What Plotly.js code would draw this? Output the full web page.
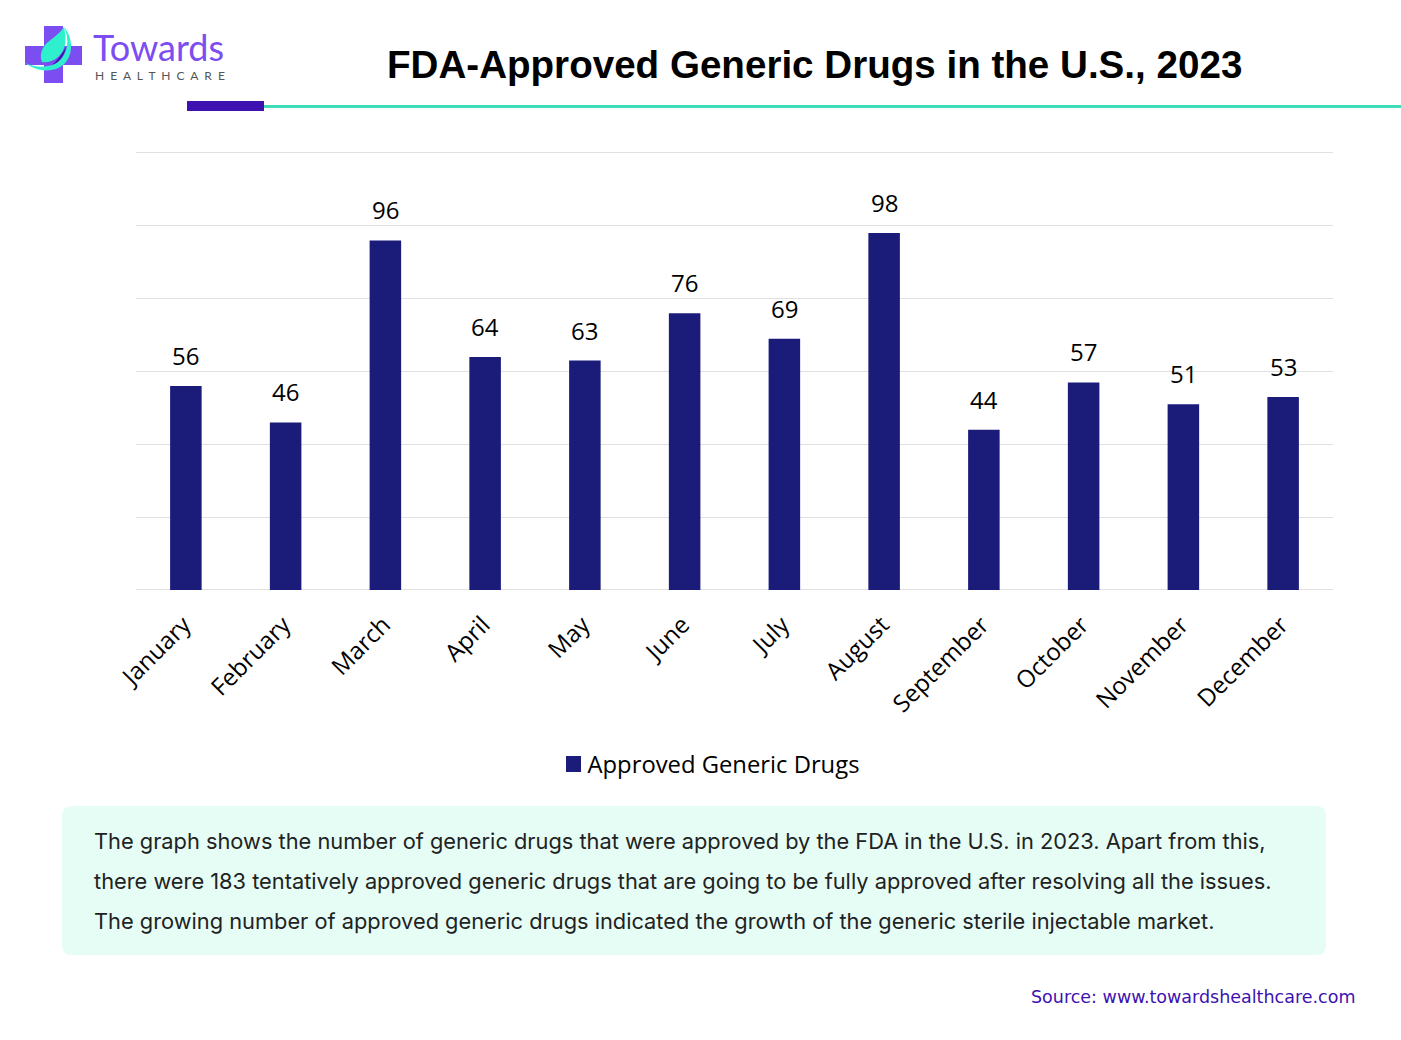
<!DOCTYPE html>
<html>
<head>
<meta charset="utf-8">
<script src="https://cdn.plot.ly/plotly-3.0.1.min.js"></script>
<style>html,body{margin:0;padding:0;background:#fff;overflow:hidden}#chart{width:1401px;height:1040px}
.legend .legendpoints{transform:translate(7px,0)}</style>
</head>
<body>
<div id="chart"></div>
<script>
const months = ["January","February","March","April","May","June","July","August","September","October","November","December"];
const approved = [56,46,96,64,63,76,69,98,44,57,51,53];
const seriesName = "Approved Generic Drugs";
const chartTitle = "FDA-Approved Generic Drugs in the U.S., 2023";
const bodyLines = [
  "The graph shows the number of generic drugs that were approved by the FDA in the U.S. in 2023. Apart from this,",
  "there were 183 tentatively approved generic drugs that are going to be fully approved after resolving all the issues.",
  "The growing number of approved generic drugs indicated the growth of the generic sterile injectable market."
];
const sourceText = "Source: www.towardshealthcare.com";
const labelFont = "'Open Sans', sans-serif";

const W = 1401, H = 1040;
const px = x => x / W;
const py = y => 1 - y / H;
function path(cmds){
  return cmds.map(c => c[0] + c.slice(1).reduce((acc,v,i,a)=>{
    if(i%2===0) acc.push(px(v).toFixed(5)+","+py(a[i+1]).toFixed(5));
    return acc;
  },[]).join(" ")).join(" ");
}
function rect(x0,y0,x1,y1,color){
  return {type:"rect",xref:"paper",yref:"paper",x0:px(x0),x1:px(x1),y0:py(y0),y1:py(y1),fillcolor:color,line:{width:0},layer:"above"};
}
function shapePath(cmds,color){
  return {type:"path",xref:"paper",yref:"paper",path:path(cmds),fillcolor:color,line:{width:0},layer:"above"};
}
const R=10, bx0=62, bx1=1326, by0=806, by1=955;
const box = {type:"path",xref:"paper",yref:"paper",layer:"below",fillcolor:"#e6fdf6",line:{width:0},
  path:path([["M",bx0+R,by0],["L",bx1-R,by0],["Q",bx1,by0,bx1,by0+R],["L",bx1,by1-R],["Q",bx1,by1,bx1-R,by1],["L",bx0+R,by1],["Q",bx0,by1,bx0,by1-R],["L",bx0,by0+R],["Q",bx0,by0,bx0+R,by0],["Z"]])};

const teal = "#2ff0cc";
const shapes = [
  box,
  rect(264,105,1401,108,"#3fdcb8"),
  rect(187,101,264,111,"#3d12b0"),
  // logo cross
  rect(44,26,63,83,"#7c4df0"),
  rect(25,46,82,65,"#7c4df0"),
  // logo swoosh, shadow, leaf
  shapePath([["M",64,27],["C",72,36,74,52,66,62],["C",58,72,40,74,25,63],["C",36,68,50,68,58,62],["C",68,54,70,40,64,27],["Z"]],teal),
  shapePath([["M",66,47],["C",64,56,60,62,52,65],["C",58,60,62,54,66,47],["Z"]],"#3d12b0"),
  shapePath([["M",64,27],["C",67,40,66,50,58,57],["C",54,61,47,63,42,62],["C",39,55,42,47,48,42],["C",54,37,60,33,64,27],["Z"]],teal),
  // legend swatch size
  rect(566,756,581,772,"#1b1c7a")
];

const ann = (text,x,y,size,color,family,anchor,extra) => Object.assign({
  text, xref:"paper", yref:"paper", x:px(x), y:py(y), xanchor:anchor||"left", yanchor:"middle",
  showarrow:false, font:{size,color,family}}, extra||{});

const valueLabels = months.map((m,i)=>({
  text:String(approved[i]), xref:"x", yref:"y", x:m, y:approved[i],
  xanchor:"center", yanchor:"bottom", yshift:12, showarrow:false,
  font:{size:24,color:"#000",family:labelFont}
}));

const annotations = [
  ...valueLabels,
  ann("<b>"+chartTitle+"</b>",814.5,64.5,38.6,"#000000","'Liberation Sans', Arial, sans-serif","center"),
  ann("Towards",91,47,36,"#7c4df0","Lato, sans-serif"),
  ann("H\u00a0\u00a0E\u00a0\u00a0A\u00a0\u00a0L\u00a0\u00a0T\u00a0\u00a0H\u00a0\u00a0C\u00a0\u00a0A\u00a0\u00a0R\u00a0\u00a0E",93,76,12,"#555555","Lato, sans-serif"),
  ann(sourceText,1357,997,17.5,"#3d12b0","'DejaVu Sans', sans-serif","right"),
  ...bodyLines.map((t,i)=>ann(t,92,841+i*40,21.8,"#222222","Inter, sans-serif"))
];

const yTop = 122, pxPerUnit = 437/120;
Plotly.newPlot("chart",[{
  type:"bar",
  x:months,
  y:approved,
  name:seriesName,
  width:0.316,
  marker:{color:"#1b1c7a"},
  showlegend:true
}],{
  width:W,height:H,
  margin:{l:0,r:0,t:0,b:0},
  paper_bgcolor:"#fff",plot_bgcolor:"rgba(0,0,0,0)",
  font:{family:labelFont},
  xaxis:{domain:[px(136),px(1333)],type:"category",tickangle:-45,showgrid:false,zeroline:false,
    showline:false,ticks:"",ticklabelstandoff:15,ticklabelshift:-2,tickfont:{size:24,color:"#000",family:labelFont},automargin:false},
  yaxis:{domain:[py(590),py(590-yTop*pxPerUnit)],range:[0,yTop],dtick:20,showticklabels:false,gridcolor:"#e0e0e0",gridwidth:1,
    zeroline:true,zerolinecolor:"#e0e0e0",zerolinewidth:1,ticks:"",automargin:false},
  showlegend:true,
  legend:{orientation:"h",x:px(706),xanchor:"center",y:py(764),yanchor:"middle",bgcolor:"rgba(0,0,0,0)",
    font:{size:23.8,color:"#000",family:labelFont},itemwidth:30},
  shapes,annotations
},{displayModeBar:false,responsive:false});
</script>
</body>
</html>
